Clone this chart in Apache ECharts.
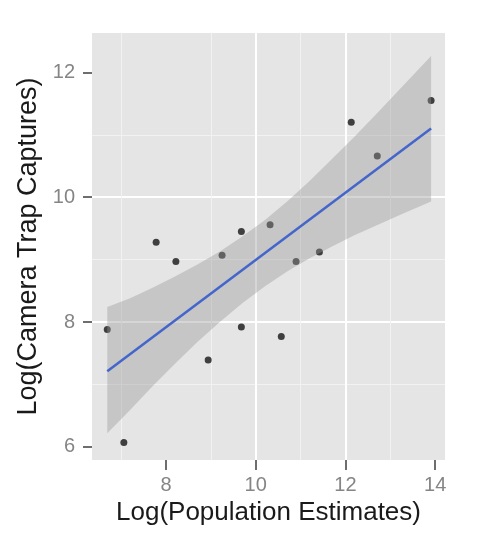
<!DOCTYPE html>
<html>
<head>
<meta charset="utf-8">
<script src="https://cdn.jsdelivr.net/npm/echarts@6/dist/echarts.min.js"></script>
<style>
html,body{margin:0;padding:0;background:#fff;}
#c{width:479px;height:545px;}
</style>
</head>
<body>
<div id="c"></div>
<script>
// Observed points
const popX = [6.69, 7.06, 7.78, 8.22, 8.94, 9.25, 9.68, 9.68, 10.32, 10.57, 10.90, 11.42, 12.13, 12.71, 13.91];
const capY = [7.88, 6.07, 9.28, 8.97, 7.39, 9.07, 9.45, 7.92, 9.56, 7.77, 8.97, 9.12, 11.20, 10.66, 11.55];
// Fitted line
const fitX = [6.69, 13.91];
const fitY = [7.21, 11.10];
// Confidence band
const bandX     = [6.69, 7.2,  7.7,  8.2,  8.7,  9.2,  9.7,  10.2, 10.7, 11.2,  11.7,  12.2,  12.7,  13.2,  13.91];
const bandLower = [6.22, 6.59, 6.97, 7.33, 7.68, 8.00, 8.30, 8.57, 8.81, 9.02,  9.21,  9.39,  9.55,  9.71,  9.93];
const bandUpper = [8.24, 8.38, 8.55, 8.73, 8.92, 9.13, 9.37, 9.63, 9.93, 10.26, 10.61, 10.97, 11.34, 11.72, 12.26];
// Tick labels
const xTicks = [8, 10, 12, 14];
const yTicks = [6, 8, 10, 12];

const font = 'Liberation Sans, Arial, Helvetica, sans-serif';
const chart = echarts.init(document.getElementById('c'), null, {renderer: 'canvas'});

const axisCommon = {
  type: 'value',
  axisLine: {show: false},
  splitLine: {show: true, showMinLine: false, showMaxLine: false, lineStyle: {color: '#ffffff', width: 2}},
  minorTick: {show: false, splitNumber: 2},
  minorSplitLine: {show: true, lineStyle: {color: '#f2f2f2', width: 1}},
  nameLocation: 'middle'
};

chart.setOption({
  animation: false,
  backgroundColor: '#ffffff',
  grid: {left: 92, right: 34, top: 33, bottom: 85, show: true, backgroundColor: '#e5e5e5', borderWidth: 0, outerBoundsMode: 'none', containLabel: false},
  xAxis: Object.assign({}, axisCommon, {
    min: 6.35, max: 14.22,
    splitNumber: 4,
    name: 'Log(Population Estimates)',
    nameGap: 37,
    nameTextStyle: {color: '#1a1a1a', fontFamily: font, fontSize: 26},
    axisTick: {show: true, length: 10, customValues: xTicks, lineStyle: {color: '#6e6e6e', width: 2}},
    axisLabel: {customValues: xTicks, color: '#858585', fontSize: 20, fontFamily: font, margin: 15}
  }),
  yAxis: Object.assign({}, axisCommon, {
    min: 5.79, max: 12.63,
    splitNumber: 4,
    name: 'Log(Camera Trap Captures)',
    nameGap: 44,
    nameTextStyle: {color: '#1a1a1a', fontFamily: font, fontSize: 27},
    axisTick: {show: true, length: 9, customValues: yTicks, lineStyle: {color: '#6e6e6e', width: 2}},
    axisLabel: {customValues: yTicks, color: '#858585', fontSize: 20, fontFamily: font, margin: 17}
  }),
  series: [
    {
      type: 'scatter',
      z: 2,
      symbolSize: 7,
      itemStyle: {color: '#151515'},
      data: popX.map((x, i) => [x, capY[i]])
    },
    {
      type: 'custom',
      z: 3,
      clip: true,
      data: [[bandX[0], bandLower[0]]],
      renderItem: function (params, api) {
        const pts = [];
        for (let i = 0; i < bandX.length; i++) pts.push(api.coord([bandX[i], bandUpper[i]]));
        for (let i = bandX.length - 1; i >= 0; i--) pts.push(api.coord([bandX[i], bandLower[i]]));
        return {type: 'polygon', shape: {points: pts}, style: {fill: 'rgba(153,153,153,0.4)'}};
      }
    },
    {
      type: 'line',
      z: 4,
      symbol: 'none',
      lineStyle: {color: '#4466cc', width: 2.5},
      data: fitX.map((x, i) => [x, fitY[i]])
    }
  ]
});
</script>
</body>
</html>
